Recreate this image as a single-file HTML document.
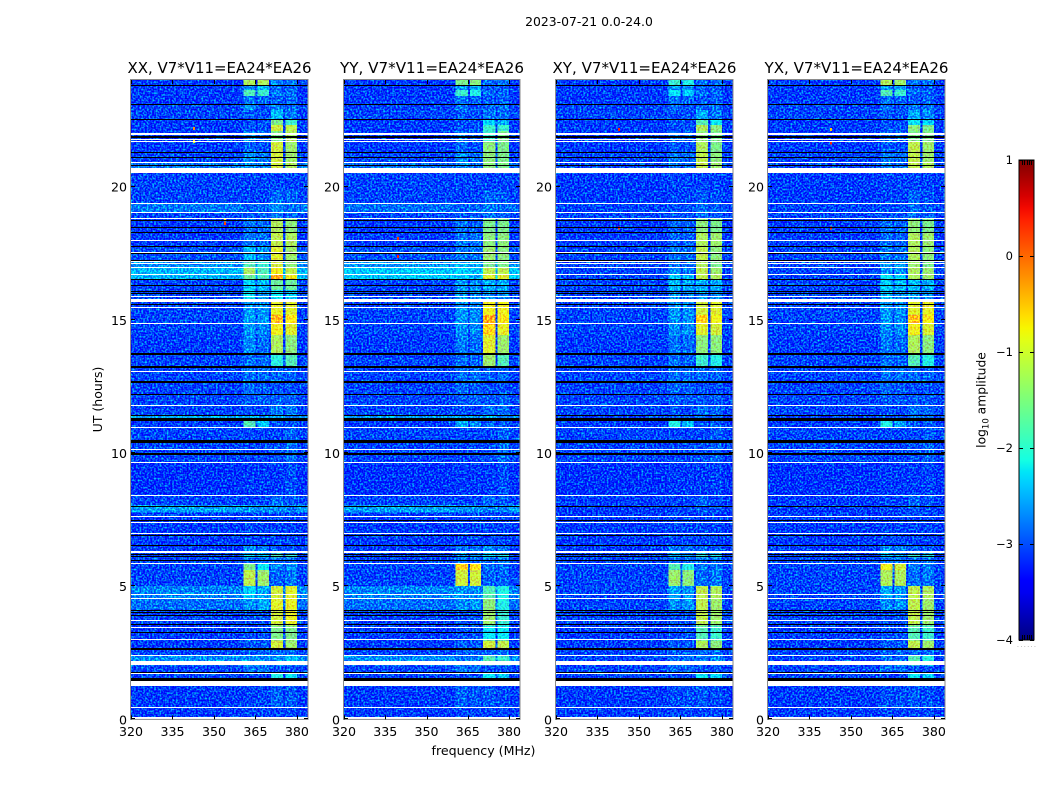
<!DOCTYPE html>
<html lang="en">
<head>
<meta charset="utf-8">
<title>2023-07-21 visibility amplitude waterfall</title>
<style>
html,body{margin:0;padding:0;background:#fff;width:1050px;height:800px;overflow:hidden}
svg{display:block}
text{font-family:"DejaVu Sans","Liberation Sans",sans-serif;fill:#000}
</style>
</head>
<body>
<svg id="chart" xmlns="http://www.w3.org/2000/svg" width="1050" height="800" viewBox="0 0 1050 800">
  <defs>
    <linearGradient id="jet" x1="0" y1="1" x2="0" y2="0"></linearGradient>
  </defs>
  <rect x="0" y="0" width="1050" height="800" fill="#fff"/>
  <text x="589" y="26" font-size="12.4" text-anchor="middle">2023-07-21 0.0-24.0</text>
  <text x="0" y="0" font-size="12.5" text-anchor="middle" transform="translate(102 399.5) rotate(-90)">UT (hours)</text>
  <text x="483.5" y="755" font-size="12.6" text-anchor="middle">frequency (MHz)</text>
  <text x="0" y="0" font-size="12.3" text-anchor="middle" transform="translate(985.5 400) rotate(-90)">log<tspan font-size="8.5" dy="3">10</tspan><tspan dy="-3"> amplitude</tspan></text>
  <text x="1017" y="647" font-size="6" letter-spacing="1.5" style="fill:#888">......</text>
  <g id="panels"></g>
  <g id="colorbar"></g>
</svg>
<script>
const panelTitles = ['XX, V7*V11=EA24*EA26', 'YY, V7*V11=EA24*EA26', 'XY, V7*V11=EA24*EA26', 'YX, V7*V11=EA24*EA26'];
const freqTicks = [320, 335, 350, 365, 380];
const utTicks = [0, 5, 10, 15, 20];
const colorbarTicks = [1, 0, -1, -2, -3, -4];

/* Time-block edges in UT hours, top to bottom */
const rowEdgesUT = [24,23.81,23.62,23.40,23.06,22.87,22.54,22.31,22.08,21.67,21.30,20.92,20.54,19.87,19.38,19.00,18.78,18.25,17.73,17.24,16.98,16.71,16.53,16.11,15.66,15.17,14.87,14.42,13.75,13.22,12.69,12.21,11.79,11.42,11.27,10.97,10.44,9.65,8.41,8.04,7.77,6.54,6.23,6.08,5.86,5.60,5.00,4.54,4.09,3.53,2.97,2.67,2.40,2.03,1.77,1.50,1.28,0.45,0.08];

/* Receiver band edges in MHz */
const bandEdgesMHz = [[360.6,365.1],[365.8,369.9],[370.6,375],[375.8,380]];

/* log10 amplitude per time block: [background, band A, band B, band C, band D] */
const xxRows = [
[-3.1,-1.2,-1.2,-2.7,-2.8],[-3.1,-2.65,-2.45,-2.9,-2.9],[-3.1,-1.75,-1.9,-2.8,-2.85],[-3.1,-2.8,-2.9,-2.9,-2.85],[-3.05,-2.65,-3.0,-2.8,-2.85],
[-3.05,-2.95,-3.0,-2.45,-2.8],[-3.1,-3.0,-3.0,-1.5,-1.9],[-3.1,-3.0,-3.0,-1.0,-1.1],[-3.1,-2.7,-2.85,-1.5,-1.2],[-3.1,-2.9,-3.0,-1.0,-1.3],
[-3.05,-2.65,-2.8,-1.0,-1.3],[-2.8,-2.65,-2.8,-1.0,-1.2],[-3.05,-3.05,-3.05,-3.05,-3.05],[-3.05,-3.05,-3.05,-2.85,-2.9],[-2.8,-2.95,-2.9,-2.7,-2.85],
[-3.05,-2.95,-2.95,-2.8,-2.85],[-3.1,-2.8,-2.85,-1.2,-1.4],[-3.1,-2.8,-2.85,-1.1,-1.2],[-3.0,-2.45,-2.65,-0.9,-1.3],[-2.7,-1.75,-1.9,-1.0,-1.4],
[-2.5,-1.2,-1.75,-0.8,-1.1],[-2.5,-1.6,-1.75,-0.35,-0.8],[-3.05,-2.35,-2.45,-1.6,-1.6],[-3.05,-2.2,-2.55,-2.2,-2.35],[-3.05,-2.65,-2.65,-0.85,-0.9],
[-3.05,-2.55,-2.65,-0.45,-0.7],[-3.05,-2.65,-2.7,-0.8,-0.9],[-3.1,-2.7,-2.85,-1.2,-1.4],[-3.05,-2.85,-2.85,-2.0,-1.75],[-3.05,-2.85,-2.85,-2.9,-2.9],
[-3.05,-2.85,-2.95,-3.0,-3.0],[-3.05,-2.95,-2.9,-2.9,-2.9],[-3.05,-3.0,-3.05,-2.8,-2.8],[-2.55,-2.55,-2.65,-2.55,-2.65],[-3.1,-1.75,-2.35,-2.95,-2.95],
[-3.05,-3.05,-3.05,-3.05,-2.9],[-3.05,-3.05,-3.05,-3.0,-2.85],[-3.15,-3.1,-3.1,-3.1,-3.0],[-3.05,-3.05,-3.05,-2.85,-2.95],[-2.6,-2.65,-2.7,-2.7,-2.8],
[-3.1,-3.05,-3.05,-3.05,-3.05],[-3.1,-2.7,-2.8,-2.95,-3.0],[-3.05,-2.2,-2.35,-1.75,-1.9],[-3.05,-2.85,-2.85,-2.85,-2.85],[-3.05,-1.5,-2.2,-2.7,-2.65],
[-3.05,-1.1,-1.3,-2.9,-2.8],[-2.75,-2.35,-2.55,-1.0,-0.9],[-2.85,-2.65,-2.55,-0.9,-0.85],[-3.05,-3.0,-3.0,-1.0,-0.85],[-3.1,-3.0,-3.0,-1.5,-1.5],
[-3.1,-2.95,-2.95,-1.0,-1.3],[-3.05,-2.95,-2.9,-2.9,-2.85],[-2.7,-2.7,-2.7,-2.65,-2.45],[-3.05,-2.8,-2.8,-3.0,-3.0],[-3.05,-3.05,-3.05,-2.05,-2.2],
[-3.1,-3.05,-3.05,-3.05,-3.05],[-3.1,-3.05,-3.05,-2.9,-2.95],[-3.1,-3.05,-3.05,-3.05,-3.05]];

const yyRows = [
[-3.1,-1.5,-1.4,-2.85,-2.85],[-3.1,-2.65,-2.55,-2.95,-2.95],[-3.1,-1.9,-2.05,-2.85,-2.9],[-3.1,-2.8,-2.9,-2.95,-2.9],[-3.05,-2.8,-3.0,-2.9,-2.85],
[-3.05,-2.95,-3.0,-2.8,-2.85],[-3.1,-3.0,-3.0,-2.35,-2.55],[-3.1,-3.0,-3.0,-1.9,-1.9],[-3.1,-2.8,-2.9,-1.9,-1.5],[-3.1,-2.9,-3.0,-1.4,-1.5],
[-3.05,-2.7,-2.85,-1.4,-1.5],[-2.85,-2.7,-2.85,-1.4,-1.5],[-3.05,-3.05,-3.05,-3.05,-3.05],[-3.05,-3.05,-3.05,-2.9,-2.95],[-2.85,-2.95,-2.9,-2.8,-2.9],
[-3.05,-2.95,-2.95,-2.85,-2.9],[-3.1,-2.8,-2.9,-1.5,-1.5],[-3.1,-2.8,-2.85,-1.4,-1.4],[-3.0,-2.8,-2.8,-1.3,-1.4],[-2.65,-2.45,-2.55,-1.5,-1.5],
[-2.4,-2.35,-2.45,-1.1,-1.1],[-2.4,-2.35,-2.55,-0.9,-0.9],[-3.05,-2.65,-2.7,-2.55,-2.55],[-3.05,-2.65,-2.7,-2.65,-2.7],[-3.05,-2.65,-2.7,-0.8,-0.8],
[-3.05,-2.65,-2.7,-0.35,-0.75],[-3.05,-2.7,-2.7,-0.6,-0.85],[-3.1,-2.8,-2.85,-0.9,-1.3],[-3.05,-2.85,-2.9,-1.3,-1.75],[-3.05,-2.85,-2.85,-2.9,-2.9],
[-3.05,-2.9,-2.95,-3.0,-3.0],[-3.05,-2.95,-2.9,-2.95,-2.9],[-3.05,-3.0,-3.05,-2.85,-2.85],[-2.6,-2.6,-2.7,-2.6,-2.7],[-3.1,-2.55,-2.7,-2.95,-2.95],
[-3.05,-3.05,-3.05,-3.05,-2.9],[-3.05,-3.05,-3.05,-3.0,-2.85],[-3.15,-3.1,-3.1,-3.1,-3.0],[-3.05,-3.05,-3.05,-2.9,-2.95],[-2.6,-2.7,-2.7,-2.8,-2.8],
[-3.1,-3.05,-3.05,-3.05,-3.05],[-3.1,-2.85,-2.85,-2.7,-2.85],[-3.05,-2.65,-2.65,-2.2,-2.05],[-3.05,-2.85,-2.85,-2.85,-2.85],[-3.05,-0.6,-0.7,-2.85,-2.85],
[-3.05,-1.0,-1.0,-2.9,-2.9],[-2.75,-2.65,-2.7,-1.75,-2.05],[-2.85,-2.7,-2.65,-1.4,-2.05],[-3.05,-3.0,-3.0,-1.3,-1.9],[-3.1,-3.0,-3.0,-2.2,-2.2],
[-3.1,-2.95,-2.95,-1.0,-1.1],[-3.05,-2.95,-2.9,-2.9,-2.85],[-2.7,-2.85,-2.8,-1.75,-1.9],[-3.05,-2.8,-2.8,-3.0,-3.0],[-3.05,-3.05,-3.05,-2.2,-2.35],
[-3.1,-3.05,-3.05,-3.05,-3.05],[-3.1,-2.9,-2.95,-2.95,-3.0],[-3.1,-3.05,-3.05,-3.05,-3.05]];

const xyRows = [
[-3.1,-1.9,-2.05,-2.85,-2.85],[-3.1,-2.65,-2.65,-2.95,-2.95],[-3.1,-2.2,-2.35,-2.85,-2.9],[-3.1,-2.85,-2.9,-2.95,-2.9],[-3.05,-2.85,-3.0,-2.85,-2.85],
[-3.05,-3.0,-3.0,-2.55,-2.8],[-3.1,-3.0,-3.0,-1.75,-2.2],[-3.1,-3.0,-3.0,-1.2,-1.4],[-3.1,-2.85,-2.9,-1.4,-1.5],[-3.1,-2.95,-3.0,-1.2,-1.5],
[-3.05,-2.8,-2.85,-1.1,-1.4],[-3.05,-2.8,-2.85,-1.1,-1.3],[-3.1,-3.05,-3.05,-3.05,-3.05],[-3.1,-3.05,-3.05,-2.95,-3.0],[-3.05,-3.0,-3.0,-2.85,-2.95],
[-3.05,-3.0,-3.0,-2.85,-2.9],[-3.1,-2.9,-2.9,-1.4,-1.5],[-3.1,-2.9,-2.9,-1.2,-1.3],[-3.05,-2.85,-2.85,-1.1,-1.4],[-3.05,-2.8,-2.8,-1.2,-1.5],
[-3.05,-2.7,-2.8,-1.1,-1.3],[-3.05,-2.35,-2.45,-1.1,-1.2],[-3.05,-2.45,-2.55,-2.55,-2.55],[-3.05,-2.7,-2.8,-2.65,-2.7],[-3.05,-2.65,-2.7,-1.0,-0.9],
[-3.05,-2.65,-2.7,-0.6,-0.8],[-3.05,-2.7,-2.7,-0.9,-1.0],[-3.1,-2.8,-2.85,-1.4,-1.4],[-3.05,-2.85,-2.9,-1.9,-2.05],[-3.05,-2.85,-2.85,-2.85,-2.9],
[-3.05,-2.9,-2.95,-3.0,-3.0],[-3.05,-2.95,-2.95,-2.95,-2.95],[-3.05,-3.0,-3.05,-2.85,-2.9],[-3.05,-2.9,-2.9,-2.85,-2.9],[-3.1,-2.05,-2.45,-2.95,-2.95],
[-3.05,-3.05,-3.05,-3.05,-2.95],[-3.05,-3.05,-3.05,-3.0,-2.9],[-3.15,-3.1,-3.1,-3.1,-3.05],[-3.1,-3.05,-3.05,-2.9,-3.0],[-3.1,-3.05,-3.05,-2.95,-3.0],
[-3.1,-3.05,-3.05,-3.05,-3.05],[-3.1,-2.8,-2.85,-2.9,-2.95],[-3.05,-2.45,-2.55,-1.9,-2.05],[-3.05,-2.85,-2.85,-2.85,-2.85],[-3.05,-1.75,-2.05,-2.8,-2.8],
[-3.05,-1.3,-1.4,-2.85,-2.8],[-3.05,-2.55,-2.65,-1.1,-1.2],[-3.05,-2.7,-2.65,-1.1,-1.3],[-3.05,-3.0,-3.0,-1.1,-1.3],[-3.1,-3.0,-3.0,-1.75,-1.9],
[-3.1,-2.95,-2.95,-1.2,-1.4],[-3.05,-2.95,-2.9,-2.9,-2.85],[-3.05,-2.85,-2.85,-2.8,-2.7],[-3.05,-2.85,-2.85,-3.0,-3.0],[-3.05,-3.05,-3.05,-2.2,-2.35],
[-3.1,-3.05,-3.05,-3.05,-3.05],[-3.1,-3.0,-3.0,-2.95,-3.0],[-3.1,-3.05,-3.05,-3.05,-3.05]];

const yxRows = [
[-3.1,-1.2,-1.3,-2.8,-2.85],[-3.1,-2.65,-2.55,-2.95,-2.95],[-3.1,-1.75,-1.9,-2.85,-2.9],[-3.1,-2.85,-2.9,-2.95,-2.9],[-3.05,-2.85,-3.0,-2.8,-2.85],
[-3.05,-2.95,-3.0,-2.55,-2.7],[-3.1,-3.0,-3.0,-2.2,-2.35],[-3.1,-3.0,-3.0,-1.4,-1.5],[-3.1,-2.85,-2.9,-1.5,-1.5],[-3.1,-2.95,-3.0,-1.1,-1.3],
[-3.05,-2.8,-2.85,-1.1,-1.3],[-3.05,-2.8,-2.85,-1.1,-1.2],[-3.1,-3.05,-3.05,-3.05,-3.05],[-3.1,-3.05,-3.05,-2.9,-3.0],[-3.05,-3.0,-3.0,-2.85,-2.95],
[-3.05,-3.0,-3.0,-2.85,-2.9],[-3.1,-2.85,-2.9,-1.4,-1.5],[-3.1,-2.85,-2.9,-1.2,-1.3],[-3.05,-2.8,-2.8,-1.2,-1.4],[-3.05,-2.65,-2.65,-1.3,-1.5],
[-3.05,-2.65,-2.65,-1.2,-1.3],[-3.05,-2.2,-2.35,-1.2,-1.3],[-3.05,-2.35,-2.45,-2.45,-2.55],[-3.05,-2.45,-2.7,-2.65,-2.7],[-3.05,-2.65,-2.7,-0.9,-0.85],
[-3.05,-2.65,-2.7,-0.45,-0.75],[-3.05,-2.7,-2.7,-0.8,-0.95],[-3.1,-2.8,-2.85,-1.2,-1.4],[-3.05,-2.85,-2.9,-1.75,-2.05],[-3.05,-2.85,-2.85,-2.85,-2.9],
[-3.05,-2.9,-2.95,-3.0,-3.0],[-3.05,-2.95,-2.95,-2.95,-2.95],[-3.05,-3.0,-3.05,-2.85,-2.9],[-3.05,-2.9,-2.9,-2.85,-2.9],[-3.1,-2.05,-2.55,-2.95,-2.95],
[-3.05,-3.05,-3.05,-3.05,-2.95],[-3.05,-3.05,-3.05,-3.0,-2.9],[-3.15,-3.1,-3.1,-3.1,-3.05],[-3.1,-3.05,-3.05,-2.9,-3.0],[-3.1,-3.05,-3.05,-2.95,-3.0],
[-3.1,-3.05,-3.05,-3.05,-3.05],[-3.1,-2.7,-2.8,-2.9,-2.95],[-3.05,-2.45,-2.55,-1.9,-2.05],[-3.05,-2.85,-2.85,-2.85,-2.85],[-3.05,-0.8,-1.0,-2.8,-2.8],
[-3.05,-1.2,-1.2,-2.85,-2.8],[-3.05,-2.55,-2.65,-1.1,-1.2],[-3.05,-2.7,-2.65,-1.1,-1.3],[-3.05,-3.0,-3.0,-1.1,-1.3],[-3.1,-3.0,-3.0,-1.75,-1.9],
[-3.1,-2.95,-2.95,-1.1,-1.3],[-3.05,-2.95,-2.9,-2.9,-2.85],[-3.05,-2.85,-2.85,-1.75,-2.05],[-3.05,-2.85,-2.85,-3.0,-3.0],[-3.05,-3.05,-3.05,-2.2,-2.35],
[-3.1,-3.05,-3.05,-3.05,-3.05],[-3.1,-3.0,-3.0,-2.95,-3.0],[-3.1,-3.05,-3.05,-3.05,-3.05]];

/* Flagged (missing) time ranges in UT hours: [upper, lower] */
const whiteFlagsUT = [[22.01,21.95],[21.80,21.75],[21.70,21.65],[20.92,20.88],[20.71,20.54],[19.38,19.34],[19.04,18.99],[18.82,18.78],[17.99,17.95],[17.54,17.50],[17.20,17.16],[17.13,17.09],[16.98,16.94],[16.73,16.68],[15.91,15.87],[15.79,15.66],[15.47,15.44],[14.87,14.84],[13.07,13.03],[11.79,11.76],[10.99,10.95],[10.14,10.10],[9.65,9.62],[8.41,8.38],[7.62,7.59],[7.42,7.38],[6.99,6.95],[6.31,6.23],[5.86,5.82],[4.71,4.68],[4.56,4.53],[3.74,3.70],[3.46,3.42],[3.00,2.97],[2.42,2.38],[2.18,2.03],[1.73,1.69],[1.46,1.28],[0.45,0.41],[0.08,0]];
const blackFlagsUT = [[23.81,23.77],[23.10,23.06],[22.55,22.52],[21.90,21.84],[21.31,21.28],[21.11,21.07],[20.81,20.77],[18.74,18.70],[18.50,18.46],[18.29,18.25],[17.76,17.73],[17.50,17.46],[17.26,17.22],[16.53,16.49],[16.30,16.26],[16.09,16.06],[16.00,15.96],[15.59,15.55],[13.75,13.69],[13.26,13.18],[12.69,12.62],[12.21,12.17],[11.42,11.38],[11.31,11.21],[10.48,10.38],[9.99,9.90],[8.00,7.96],[7.47,7.44],[6.91,6.87],[6.55,6.50],[6.22,6.18],[6.12,6.08],[5.97,5.92],[4.11,4.08],[4.02,3.98],[3.91,3.87],[3.59,3.55],[3.27,3.23],[2.69,2.63],[1.78,1.75],[1.56,1.46]];

/* Hot pixels: [panel index, MHz, UT, log10 amplitude] */
const hotPixels = [[0,342.4,22.23,-0.2],[0,353.6,18.67,0.2],[0,353.6,18.8,-0.7],[0,342.4,21.75,-0.7],[1,339.2,17.43,0.4],[1,339.2,18.1,0.3],[2,342.4,22.2,0.4],[2,342.4,18.5,0.3],[3,342.4,22.2,-0.5],[3,342.4,21.7,0.4],[3,342.4,18.5,0.4]];

/* Colorbar minor tick offsets along the bar, in fractions of its width */
const colorbarMinorTicks = [0.17, 0.33, 0.5, 0.67, 0.83];

const panelRows = [xxRows, yyRows, xyRows, yxRows];
const panelLeft = [131, 344, 556, 768];
const panelWidth = [177, 176, 177, 177];
const plotTop = 80, plotBottom = 719.4;
const freqMin = 320, freqMax = 384, utMax = 24;
const cbarLeft = 1019, cbarRight = 1034, cbarTop = 160, cbarBottom = 640;

const NS = 'http://www.w3.org/2000/svg';
function make(tag, parent, attrs) {
  const el = document.createElementNS(NS, tag);
  for (const k in attrs) el.setAttribute(k, attrs[k]);
  parent.appendChild(el);
  return el;
}
function interp(t, stops) {
  for (let i = 1; i < stops.length; i++) {
    if (t <= stops[i][0]) {
      const a = stops[i - 1], b = stops[i];
      return a[1] + (b[1] - a[1]) * (t - a[0]) / (b[0] - a[0]);
    }
  }
  return stops[stops.length - 1][1];
}
const jetR = [[0,0],[0.35,0],[0.66,1],[0.89,1],[1,0.5]];
const jetG = [[0,0],[0.125,0],[0.375,1],[0.64,1],[0.91,0],[1,0]];
const jetB = [[0,0.5],[0.11,1],[0.34,1],[0.65,0],[1,0]];
function jet(t) {
  t = Math.max(0, Math.min(1, t));
  return 'rgb(' + [jetR, jetG, jetB].map(s => Math.round(255 * interp(t, s))).join(',') + ')';
}
function colorOf(v) { return jet((v + 4) / 5); }
function yScale(ut) { return plotBottom - ut * (plotBottom - plotTop) / utMax; }
function xScale(p, mhz) { return panelLeft[p] + (mhz - freqMin) * panelWidth[p] / (freqMax - freqMin); }
function cbarY(v) { return cbarBottom - (v + 4) * (cbarBottom - cbarTop) / 5; }

const panelsRoot = document.getElementById('panels');
const defs = document.querySelector('defs');
const polNames = ['xx', 'yy', 'xy', 'yx'];

panelRows.forEach(function (rows, p) {
  const L = panelLeft[p], W = panelWidth[p], H = plotBottom - plotTop;
  const f = make('filter', defs, {id: 'speckle' + p, filterUnits: 'userSpaceOnUse', x: L, y: plotTop, width: W, height: H, 'color-interpolation-filters': 'sRGB'});
  
  
  make('feTurbulence', f, {type: 'fractalNoise', baseFrequency: '0.55', numOctaves: 1, seed: 3 + p * 5, result: 'n'});
  make('feColorMatrix', f, {in: 'n', type: 'matrix', values: '0 0 0 0 0.25  2.2 0 0 0 -0.85  0 0.9 0 0 -0.13  0 0 0 0 1', result: 'm'});
  make('feComposite', f, {in: 'SourceGraphic', in2: 'm', operator: 'arithmetic', k1: 0, k2: 1, k3: 1, k4: -0.25});

  const panel = make('g', panelsRoot, {});
  
  

  const heat = make('g', panel, {filter: 'url(#speckle' + p + ')', 'shape-rendering': 'crispEdges'});
  
  

  rows.forEach(function (row, r) {
    const y0 = yScale(rowEdgesUT[r]), y1 = yScale(rowEdgesUT[r + 1]);
    const bg = make('rect', heat, {x: xScale(p, freqMin), y: y0, width: xScale(p, freqMax) - xScale(p, freqMin), height: y1 - y0, fill: colorOf(row[0])});
    
    
    bandEdgesMHz.forEach(function (band, b) {
      const cell = make('rect', heat, {x: xScale(p, band[0]), y: y0, width: xScale(p, band[1]) - xScale(p, band[0]), height: y1 - y0, fill: colorOf(row[b + 1])});
      
      
    });
  });

  hotPixels.filter(h => h[0] === p).forEach(function (h) {
    const px = make('rect', panel, {x: xScale(p, h[1]), y: yScale(h[2]), width: 2, height: 3, fill: colorOf(h[3]), 'shape-rendering': 'crispEdges'});
    
    
  });

  const flags = make('g', panel, {'shape-rendering': 'crispEdges'});
  
  
  blackFlagsUT.forEach(function (fl) {
    const line = make('rect', flags, {x: L, y: Math.round(yScale(fl[0])), width: W, height: Math.max(1, Math.round(yScale(fl[1]) - yScale(fl[0]))), fill: '#000'});
    
    
  });
  whiteFlagsUT.forEach(function (fl) {
    const line = make('rect', flags, {x: L, y: Math.round(yScale(fl[0])), width: W, height: Math.max(1, Math.round(yScale(fl[1]) - yScale(fl[0]))), fill: '#fff'});
    
    
  });

  const frame = make('rect', panel, {x: L - 0.5, y: plotTop - 0.5, width: W + 0.5, height: H + 0.5, fill: 'none', stroke: '#8a8a8a', 'stroke-width': 1});
  
  

  freqTicks.forEach(function (t) {
    const x = Math.round(xScale(p, t)) + 0.5;
    const a = make('line', panel, {x1: x, x2: x, y1: plotBottom, y2: plotBottom - 4, stroke: '#000', 'stroke-width': 1});
    
    
    const b = make('line', panel, {x1: x, x2: x, y1: plotTop, y2: plotTop + 4, stroke: '#000', 'stroke-width': 1});
    
    
    const lab = make('text', panel, {x: xScale(p, t), y: 736, 'font-size': 12.6, 'text-anchor': 'middle'});
    
    
    lab.textContent = t;
  });
  utTicks.forEach(function (t) {
    const y = Math.round(yScale(t)) - 0.5;
    const a = make('line', panel, {x1: L, x2: L + 4, y1: y, y2: y, stroke: '#000', 'stroke-width': 1});
    
    
    const b = make('line', panel, {x1: L + W, x2: L + W - 4, y1: y, y2: y, stroke: '#000', 'stroke-width': 1});
    
    
    const lab = make('text', panel, {x: L - 4, y: yScale(t) + 5, 'font-size': 12.6, 'text-anchor': 'end'});
    
    
    lab.textContent = t;
  });

  const title = make('text', panel, {x: L + W / 2, y: 73, 'font-size': 15, 'text-anchor': 'middle', textLength: 184, lengthAdjust: 'spacingAndGlyphs'});
  
  
  title.textContent = panelTitles[p];
});

/* Colorbar */
const grad = document.getElementById('jet');
for (let v = -4; v <= 1.0001; v += 0.125) {
  const stop = make('stop', grad, {offset: ((v + 4) / 5).toFixed(4), 'stop-color': colorOf(v)});
  
  
}
const cb = document.getElementById('colorbar');
const cbRect = make('rect', cb, {x: cbarLeft, y: cbarTop, width: cbarRight - cbarLeft, height: cbarBottom - cbarTop, fill: 'url(#jet)', stroke: '#000', 'stroke-width': 1, 'shape-rendering': 'crispEdges'});


colorbarMinorTicks.forEach(function (frac) {
  const x = Math.round(cbarLeft + frac * (cbarRight - cbarLeft)) + 0.5;
  const top = make('line', cb, {x1: x, x2: x, y1: cbarTop, y2: cbarTop + 5, stroke: '#000', 'stroke-width': 1});
  
  
  const bottom = make('line', cb, {x1: x, x2: x, y1: cbarBottom, y2: cbarBottom - 5, stroke: '#000', 'stroke-width': 1});
  
  
});
colorbarTicks.forEach(function (t) {
  const y = Math.round(cbarY(t)) + 0.5;
  const a = make('line', cb, {x1: cbarLeft, x2: cbarLeft + 4, y1: y, y2: y, stroke: '#000', 'stroke-width': 1});
  
  
  const b = make('line', cb, {x1: cbarRight, x2: cbarRight - 4, y1: y, y2: y, stroke: '#000', 'stroke-width': 1});
  
  
  const lab = make('text', cb, {x: 1013, y: cbarY(t) + 4, 'font-size': 11.5, 'text-anchor': 'end'});
  
  
  lab.textContent = t < 0 ? '\u2212' + Math.abs(t) : String(t);
});
</script>
</body>
</html>
